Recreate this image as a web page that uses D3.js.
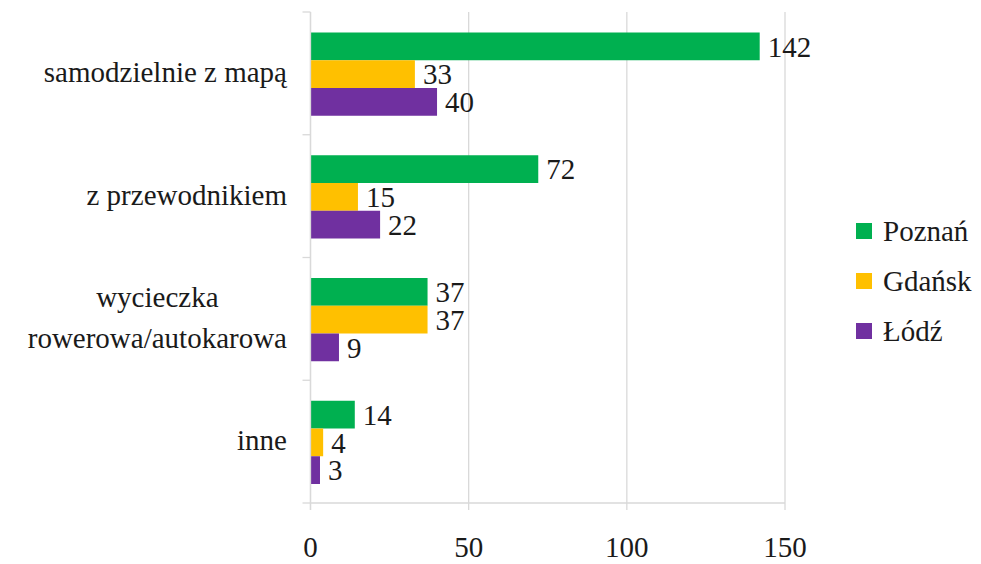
<!DOCTYPE html>
<html lang="en">
<head>
    <meta charset="UTF-8">
    <title>Chart</title>
    <script src="https://d3js.org/d3.v7.min.js" type="text/JavaScript"></script>
    <style>
        body { margin: 0; background: #fff; }
        svg text { font-family: "Liberation Serif", "DejaVu Serif", Tinos, "Times New Roman", serif; }
    </style>
</head>
<body>
<svg height="564" id="chart" width="981"></svg>
<script>
    // dane
    var categories = ["samodzielnie z mapą", "z przewodnikiem", "wycieczka\nrowerowa/autokarowa", "inne"];
    var cities = ["Poznań", "Gdańsk", "Łódź"];
    var poznan = [142, 72, 37, 14];
    var gdansk = [33, 15, 37, 4];
    var lodz = [40, 22, 9, 3];
    var xTicks = [0, 50, 100, 150];
    var colors = ["#00B050", "#FFC000", "#7030A0"];

    var series = [poznan, gdansk, lodz];
    var grid = "#d9d9d9";
    var fontSize = 29;

    var svg = d3.select('#chart')
        .attr('fill', '#1a1a1a');
    var x = d3.scaleLinear().domain([0, 150]).range([310.5, 785]);
    var y = d3.scaleBand().domain(d3.range(categories.length)).range([12, 503]);
    var yIn = d3.scaleBand().domain(d3.range(cities.length))
        .range([20.5, y.bandwidth() - 19]);

    // siatka pionowa
    svg.append('g').selectAll('line')
        .data(xTicks)
        .enter().append('line')
        .attr('x1', d => x(d)).attr('x2', d => x(d))
        .attr('y1', 12).attr('y2', 510)
        .attr('stroke', grid).attr('stroke-width', 1.3);

    // os dolna
    svg.append('line')
        .attr('x1', x(0)).attr('x2', x(150))
        .attr('y1', 503).attr('y2', 503)
        .attr('stroke', grid).attr('stroke-width', 1.3);

    // podzialki po lewej
    svg.append('g').selectAll('line')
        .data(d3.range(categories.length + 1))
        .enter().append('line')
        .attr('x1', x(0) - 8).attr('x2', x(0))
        .attr('y1', d => d < categories.length ? y(d) : 503)
        .attr('y2', d => d < categories.length ? y(d) : 503)
        .attr('stroke', grid).attr('stroke-width', 1.3);

    // etykiety osi x
    svg.append('g').selectAll('text')
        .data(xTicks)
        .enter().append('text')
        .attr('x', d => x(d))
        .attr('y', 557)
        .attr('text-anchor', 'middle')
        .attr('font-size', fontSize)
        .text(d => d);

    // slupki
    series.forEach(function (vals, s) {
        var g = svg.append('g');
        g.selectAll('rect')
            .data(vals)
            .enter().append('rect')
            .attr('x', x(0))
            .attr('y', (d, i) => y(i) + yIn(s))
            .attr('width', d => x(d) - x(0))
            .attr('height', yIn.bandwidth())
            .attr('fill', colors[s]);
        g.selectAll('text')
            .data(vals)
            .enter().append('text')
            .attr('x', d => x(d) + 8)
            .attr('y', (d, i) => y(i) + yIn(s) + yIn.bandwidth() / 2)
            .attr('dy', '0.35em')
            .attr('font-size', fontSize)
            .text(d => d);
    });

    // os lewa
    svg.append('line')
        .attr('x1', x(0)).attr('x2', x(0))
        .attr('y1', 12).attr('y2', 510)
        .attr('stroke', grid).attr('stroke-width', 1.3);

    // etykiety kategorii
    categories.forEach(function (c, i) {
        var lines = c.split('\n');
        var g = svg.append('g');
        var lh = 41;
        var cy = y(i) + y.bandwidth() / 2;
        var t = g.selectAll('text')
            .data(lines)
            .enter().append('text')
            .attr('y', (d, j) => cy + (j - (lines.length - 1) / 2) * lh)
            .attr('dy', '0.3em')
            .attr('text-anchor', 'middle')
            .attr('font-size', fontSize)
            .text(d => d);
        var maxW = d3.max(t.nodes(), n => n.getComputedTextLength());
        t.attr('x', 287 - maxW / 2);
    });

    // legenda
    var leg = svg.append('g').selectAll('g')
        .data(cities)
        .enter().append('g')
        .attr('transform', (d, i) => 'translate(856,' + (231 + i * 50) + ')');
    leg.append('rect')
        .attr('x', 0).attr('y', -8)
        .attr('width', 16).attr('height', 16)
        .attr('fill', (d, i) => colors[i]);
    leg.append('text')
        .attr('x', 27).attr('y', 0)
        .attr('dy', '0.35em')
        .attr('font-size', fontSize)
        .text(d => d);
</script>
</body>
</html>
